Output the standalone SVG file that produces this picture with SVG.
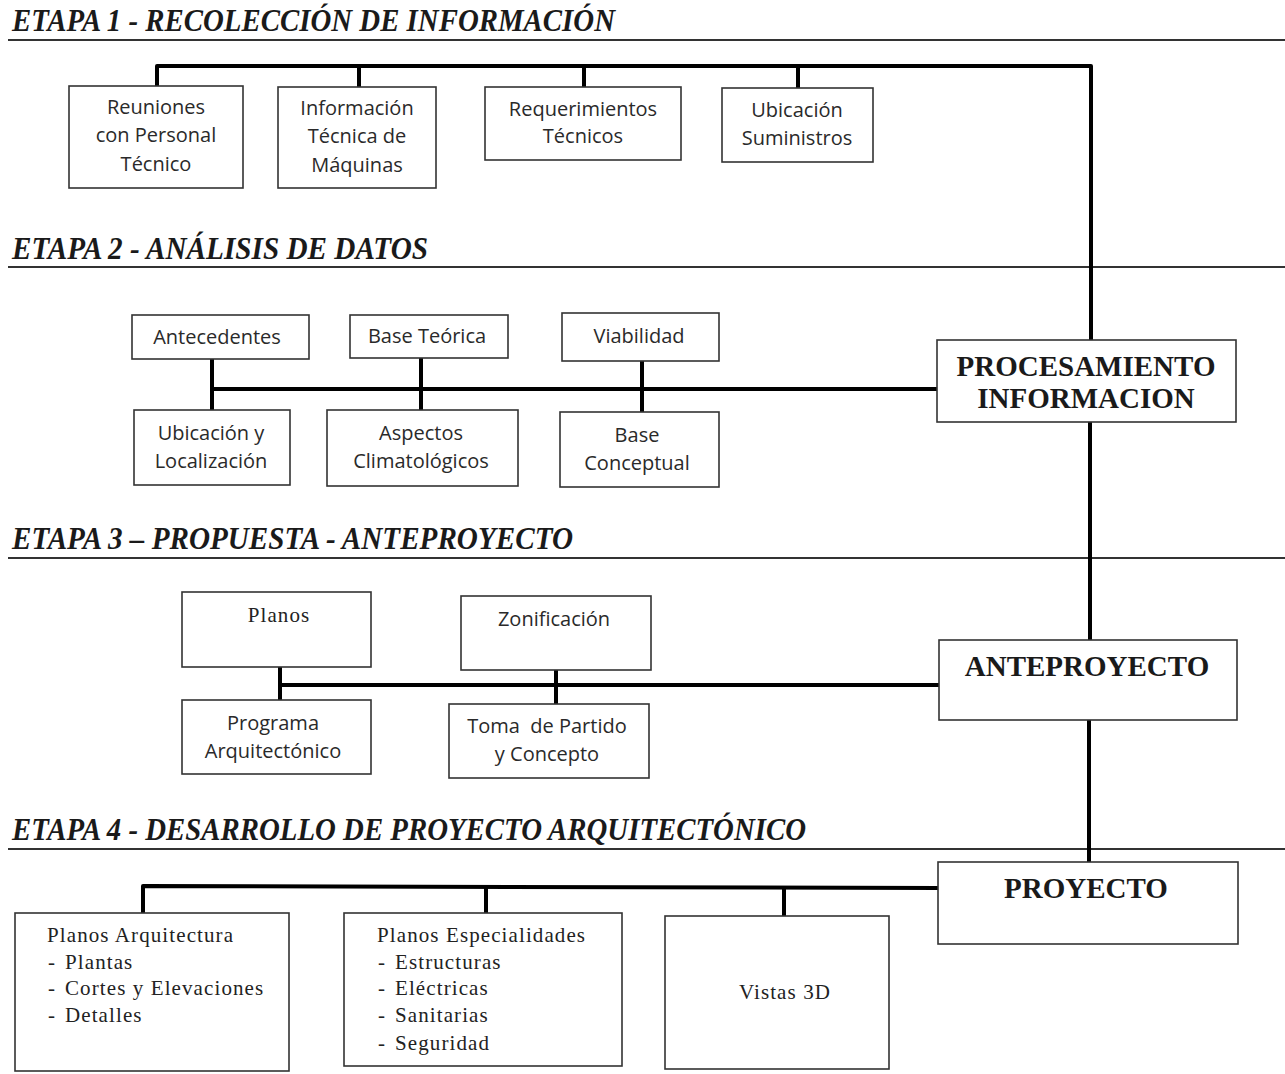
<svg xmlns="http://www.w3.org/2000/svg" width="1285" height="1074" viewBox="0 0 1285 1074">
<style>
.bg{fill:#fff}
.title{font-family:"Liberation Serif","Times New Roman",serif;font-weight:bold;font-style:italic;font-size:31px;fill:#1a1a1a}
.rule{stroke:#333;stroke-width:2;fill:none}
.box{fill:#fff;stroke:#333;stroke-width:1.6}
.sans{font-family:"Open Sans","Liberation Sans",sans-serif;font-size:20px;fill:#2a2a2a;text-anchor:middle}
.serif{font-family:"Liberation Serif","Times New Roman",serif;font-size:21px;letter-spacing:1.1px;fill:#222}
.mid{text-anchor:middle}
.big{font-family:"Liberation Serif","Times New Roman",serif;font-weight:bold;font-size:29px;fill:#1a1a1a;text-anchor:middle}
.conn{stroke:#000;stroke-width:4;fill:none;stroke-linejoin:round}
</style>
<rect class="bg" x="0" y="0" width="1285" height="1074"/>

<g id="stage-titles">
<text class="title" x="12" y="31" textLength="603" lengthAdjust="spacingAndGlyphs">ETAPA 1 - RECOLECCIÓN DE INFORMACIÓN</text>
<line class="rule" x1="8" y1="40" x2="1285" y2="40"/>
<text class="title" x="12" y="259" textLength="416" lengthAdjust="spacingAndGlyphs">ETAPA 2 - ANÁLISIS DE DATOS</text>
<line class="rule" x1="8" y1="267" x2="1285" y2="267"/>
<text class="title" x="12" y="549" textLength="561" lengthAdjust="spacingAndGlyphs">ETAPA 3 – PROPUESTA - ANTEPROYECTO</text>
<line class="rule" x1="8" y1="558" x2="1285" y2="558"/>
<text class="title" x="12" y="840" textLength="794" lengthAdjust="spacingAndGlyphs">ETAPA 4 - DESARROLLO DE PROYECTO ARQUITECTÓNICO</text>
<line class="rule" x1="8" y1="849" x2="1285" y2="849"/>
</g>

<g id="connectors">
<polyline class="conn" points="157,86 157,66 1091,66 1091,340"/>
<line class="conn" x1="359" y1="66" x2="359" y2="87"/>
<line class="conn" x1="584" y1="66" x2="584" y2="87"/>
<line class="conn" x1="798" y1="66" x2="798" y2="88"/>
<line class="conn" x1="214" y1="389" x2="937" y2="389"/>
<line class="conn" x1="212" y1="359" x2="212" y2="410"/>
<line class="conn" x1="421" y1="358" x2="421" y2="410"/>
<line class="conn" x1="642" y1="361" x2="642" y2="412"/>
<line class="conn" x1="1090" y1="422" x2="1090" y2="640"/>
<line class="conn" x1="280" y1="685" x2="939" y2="685"/>
<line class="conn" x1="280" y1="667" x2="280" y2="700"/>
<line class="conn" x1="556" y1="670" x2="556" y2="704"/>
<line class="conn" x1="1089" y1="720" x2="1089" y2="862"/>
<polyline class="conn" points="143,913 143,886 938,888"/>
<line class="conn" x1="486" y1="886" x2="486" y2="913"/>
<line class="conn" x1="784" y1="888" x2="784" y2="916"/>
</g>

<g id="n-reuniones"><rect class="box" x="69" y="86" width="174" height="102"/>
<text class="sans" x="156" y="114">Reuniones</text><text class="sans" x="156" y="142">con Personal</text><text class="sans" x="156" y="171">Técnico</text></g>
<g id="n-informacion"><rect class="box" x="278" y="87" width="158" height="101"/>
<text class="sans" x="357" y="115">Información</text><text class="sans" x="357" y="143">Técnica de</text><text class="sans" x="357" y="172">Máquinas</text></g>
<g id="n-requerimientos"><rect class="box" x="485" y="87" width="196" height="73"/>
<text class="sans" x="583" y="116">Requerimientos</text><text class="sans" x="583" y="143">Técnicos</text></g>
<g id="n-ubicacion-sum"><rect class="box" x="722" y="88" width="151" height="74"/>
<text class="sans" x="797" y="117">Ubicación</text><text class="sans" x="797" y="145">Suministros</text></g>

<g id="n-antecedentes"><rect class="box" x="132" y="315" width="177" height="44"/>
<text class="sans" x="217" y="344">Antecedentes</text></g>
<g id="n-base-teorica"><rect class="box" x="350" y="315" width="158" height="43"/>
<text class="sans" x="427" y="343">Base Teórica</text></g>
<g id="n-viabilidad"><rect class="box" x="562" y="313" width="157" height="48"/>
<text class="sans" x="639" y="343">Viabilidad</text></g>
<g id="n-ubicacion-loc"><rect class="box" x="134" y="410" width="156" height="75"/>
<text class="sans" x="211" y="440">Ubicación y</text><text class="sans" x="211" y="468">Localización</text></g>
<g id="n-aspectos"><rect class="box" x="327" y="410" width="191" height="76"/>
<text class="sans" x="421" y="440">Aspectos</text><text class="sans" x="421" y="468">Climatológicos</text></g>
<g id="n-base-conceptual"><rect class="box" x="560" y="412" width="159" height="75"/>
<text class="sans" x="637" y="442">Base</text><text class="sans" x="637" y="470">Conceptual</text></g>
<g id="n-procesamiento"><rect class="box" x="937" y="340" width="299" height="82"/>
<text class="big" x="1086" y="376">PROCESAMIENTO</text><text class="big" x="1086" y="408">INFORMACION</text></g>

<g id="n-planos"><rect class="box" x="182" y="592" width="189" height="75"/>
<text class="serif mid" x="279" y="622">Planos</text></g>
<g id="n-zonificacion"><rect class="box" x="461" y="596" width="190" height="74"/>
<text class="sans" x="554" y="626">Zonificación</text></g>
<g id="n-programa"><rect class="box" x="182" y="700" width="189" height="74"/>
<text class="sans" x="273" y="730">Programa</text><text class="sans" x="273" y="758">Arquitectónico</text></g>
<g id="n-toma"><rect class="box" x="449" y="704" width="200" height="74"/>
<text class="sans" x="547" y="733" xml:space="preserve">Toma  de Partido</text><text class="sans" x="547" y="761">y Concepto</text></g>
<g id="n-anteproyecto"><rect class="box" x="939" y="640" width="298" height="80"/>
<text class="big" x="1087" y="676">ANTEPROYECTO</text></g>

<g id="n-proyecto"><rect class="box" x="938" y="862" width="300" height="82"/>
<text class="big" x="1086" y="898">PROYECTO</text></g>
<g id="n-planos-arq"><rect class="box" x="15" y="913" width="274" height="158"/>
<text class="serif" x="47" y="942">Planos Arquitectura</text>
<text class="serif" y="969"><tspan x="48">-</tspan><tspan x="65">Plantas</tspan></text>
<text class="serif" y="995"><tspan x="48">-</tspan><tspan x="65">Cortes y Elevaciones</tspan></text>
<text class="serif" y="1022"><tspan x="48">-</tspan><tspan x="65">Detalles</tspan></text></g>
<g id="n-planos-esp"><rect class="box" x="344" y="913" width="278" height="153"/>
<text class="serif" x="377" y="942">Planos Especialidades</text>
<text class="serif" y="969"><tspan x="378">-</tspan><tspan x="395">Estructuras</tspan></text>
<text class="serif" y="995"><tspan x="378">-</tspan><tspan x="395">Eléctricas</tspan></text>
<text class="serif" y="1022"><tspan x="378">-</tspan><tspan x="395">Sanitarias</tspan></text>
<text class="serif" y="1050"><tspan x="378">-</tspan><tspan x="395">Seguridad</tspan></text></g>
<g id="n-vistas"><rect class="box" x="665" y="916" width="224" height="153"/>
<text class="serif mid" x="785" y="999">Vistas 3D</text></g>
</svg>
